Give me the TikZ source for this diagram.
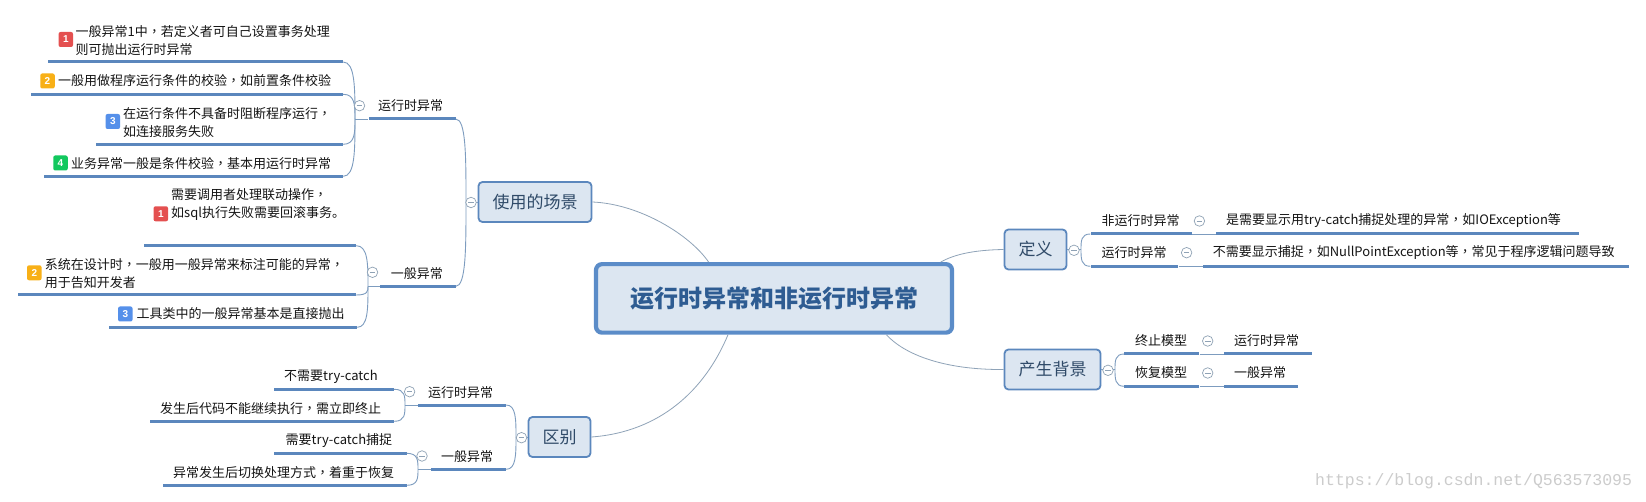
\documentclass[tikz,border=0pt]{standalone}
\usepackage{fontspec}
\setmainfont{Noto Sans CJK SC}
\newfontfamily\tcfont{Noto Sans CJK TC}
\newfontfamily\wmfont{Liberation Mono}
\newfontfamily\digitfont{Liberation Sans}
\usetikzlibrary{calc}
\newcommand{\cm}{{\tcfont ，}}
\definecolor{barblue}{HTML}{5B87BD}
\definecolor{rootblue}{HTML}{5B8CC8}
\definecolor{boxfill}{HTML}{DCE6F1}
\definecolor{boxtext}{HTML}{2F4A68}
\definecolor{roottext}{HTML}{2E5C92}
\definecolor{thinline}{HTML}{7D9CBF}
\definecolor{rootline}{HTML}{8FA3B8}
\definecolor{foldgray}{HTML}{8FA2B5}
\definecolor{bred}{HTML}{E45050}
\definecolor{borange}{HTML}{F8B017}
\definecolor{bblue}{HTML}{5590EA}
\definecolor{bgreen}{HTML}{12C85E}
\tikzset{
  bar/.style={fill=barblue,inner sep=0pt,minimum height=3pt,rectangle},
  lab/.style={inner sep=0pt,font=\fontsize{13}{18}\selectfont,text=black!92,anchor=west,align=left},
  conn/.style={draw=thinline,line width=0.9pt},
  rootconn/.style={draw=rootline,line width=0.8pt},
  subbox/.style={draw=barblue,line width=1.8pt,fill=boxfill,rounded corners=4pt,inner sep=0pt,text=boxtext,font=\fontsize{17}{20}\selectfont},
  rootbox/.style={draw=rootblue,line width=4.2pt,fill=boxfill,rounded corners=6pt,inner sep=0pt,text=roottext,font=\fontsize{24}{28}\selectfont\bfseries},
  fold/.style={circle,draw=foldgray,fill=white,line width=0.7pt,minimum size=10.5pt,inner sep=0pt,
    path picture={\draw[foldgray,line width=0.7pt] ([xshift=-2.8pt]path picture bounding box.center) -- ([xshift=2.8pt]path picture bounding box.center);}},
  badge/.style={rounded corners=2pt,minimum width=14.5pt,minimum height=15pt,inner sep=0pt,text=white,font=\fontsize{10}{10}\digitfont\bfseries},
  wm/.style={inner sep=0pt,anchor=west,text=black!20,font=\fontsize{16.5}{18}\wmfont},
}
% name, x1, x2, bar y, text x, text y, text
\newcommand{\topicnode}[7]{%
  \node[bar,minimum width={(#3)-(#2)}] (#1) at ({((#2)+(#3))/2},#4) {};
  \node[lab] (#1t) at (#5,#6) {#7};
}
% from junction to the end of a child bar; #3 = east or west
\newcommand{\twig}[3]{%
  \draw[conn] (#1) .. controls ($(#1)!0.55!(#1 |- #2.#3)$) and (#1 |- #2.#3) .. (#2.#3);
}
\begin{document}
\begin{tikzpicture}[x=1pt,y=-1pt]
\useasboundingbox[fill=white] (0,0) rectangle (1646,502);

% central topic and main topics
\node[rootbox,minimum width=356pt,minimum height=68.5pt] (root) at (774,298.4) {运行时异常和非运行时异常};
\node[subbox,minimum width=113pt,minimum height=40pt] (scene) at (535,202) {使用的场景};
\node[subbox,minimum width=62pt,minimum height=40pt] (diff) at (559.5,437) {区别};
\node[subbox,minimum width=62pt,minimum height=40pt] (defn) at (1035.5,249.5) {定义};
\node[subbox,minimum width=96pt,minimum height=40pt] (back) at (1052.5,369.5) {产生背景};

% main connectors
\draw[rootconn] (scene.east) .. controls (640,204) and (690,235) .. (root.north -| 708.6,0);
\draw[rootconn] (diff.east) .. controls (660,432) and (705,390) .. (root.south -| 728,0);
\draw[rootconn] (defn.west) .. controls (975,250) and (955,254) .. (root.north -| 940.7,0);
\draw[rootconn] (back.west) .. controls (945,370) and (905,355) .. (root.south -| 886.4,0);

% junctions
\coordinate (jscene) at (466,202);
\coordinate (jrun) at (355,119);
\coordinate (jgen) at (368,286.3);
\coordinate (jdiff) at (516,437);
\coordinate (jdrun) at (405,405);
\coordinate (jdgen) at (418,469.3);
\coordinate (jdefn) at (1081,249.5);
\coordinate (jback) at (1115,369.5);

% left upper branch
\topicnode{run}{368.5}{455.5}{119}{378}{106}{运行时异常}
\topicnode{gen}{380}{455.5}{286.3}{390.7}{273.3}{一般异常}
\topicnode{ra}{48}{343}{62}{75.5}{40.5}{一般异常1中\cm 若定义者可自己设置事务处理\\则可抛出运行时异常}
\topicnode{rb}{31}{343}{94.3}{58}{81}{一般用做程序运行条件的校验\cm 如前置条件校验}
\topicnode{rc}{96}{343}{144.3}{123}{122.7}{在运行条件不具备时阻断程序运行\cm\\如连接服务失败}
\topicnode{rd}{43.5}{343}{176.3}{71}{163.3}{业务异常一般是条件校验\cm 基本用运行时异常}
\topicnode{ga}{143.5}{356}{245.7}{171}{204.5}{需要调用者处理联动操作\cm\\如sql执行失败需要回滚事务。}
\topicnode{gb}{18}{356}{295}{44.7}{273.3}{系统在设计时\cm 一般用一般异常来标注可能的异常\cm\\用于告知开发者}
\topicnode{gc}{108.7}{357}{327.3}{136.4}{314}{工具类中的一般异常基本是直接抛出}

% left lower branch
\topicnode{drun}{418}{506}{405}{428}{392.3}{运行时异常}
\topicnode{dgen}{431}{506}{469.3}{441}{456.7}{一般异常}
\topicnode{da}{273.6}{394}{389.3}{284}{376.7}{不需要try-catch}
\topicnode{db}{149.5}{394}{421.3}{160}{408.7}{发生后代码不能继续执行\cm 需立即终止}
\topicnode{dc}{274.4}{406.5}{453.3}{285.5}{440.7}{需要try-catch捕捉}
\topicnode{dd}{162.5}{406.5}{485.3}{173}{472.3}{异常发生后切换处理方式\cm 着重于恢复}

% right branches
\topicnode{nrun}{1090.6}{1191.6}{234}{1101.4}{221}{非运行时异常}
\topicnode{yrun}{1090.6}{1178.4}{266.3}{1101.4}{252.7}{运行时异常}
\topicnode{nrunx}{1216}{1578.5}{234}{1225.8}{221}{是需要显示用try-catch捕捉处理的异常\cm 如IOException等}
\topicnode{yrunx}{1202.7}{1628.8}{266.3}{1212.6}{252.7}{不需要显示捕捉\cm 如NullPointException等\cm 常见于程序逻辑问题导致}
\topicnode{stop}{1124.4}{1199.4}{354}{1135}{341}{终止模型}
\topicnode{resume}{1124.4}{1199.4}{386.3}{1135}{373}{恢复模型}
\topicnode{stopx}{1224}{1311.5}{354}{1234}{341}{运行时异常}
\topicnode{resumex}{1224}{1298.3}{386.3}{1234}{373}{一般异常}

% stubs
\draw[conn] (scene.west) -- (jscene);
\draw[conn] (jrun) -- (run.west);
\draw[conn] (jgen) -- (gen.west);
\draw[conn] (diff.west) -- (jdiff);
\draw[conn] (jdrun) -- (drun.west);
\draw[conn] (jdgen) -- (dgen.west);
\draw[conn] (defn.east) -- (jdefn);
\draw[conn] (back.east) -- (jback);
\draw[conn] (nrun.east) -- (nrunx.west);
\draw[conn] (yrun.east) -- (yrunx.west);
\draw[conn] (stop.east) -- (stopx.west);
\draw[conn] (resume.east) -- (resumex.west);

% curves
\twig{jscene}{run}{east}
\twig{jscene}{gen}{east}
\twig{jrun}{ra}{east}
\twig{jrun}{rb}{east}
\twig{jrun}{rc}{east}
\twig{jrun}{rd}{east}
\twig{jgen}{ga}{east}
\twig{jgen}{gb}{east}
\twig{jgen}{gc}{east}
\twig{jdiff}{drun}{east}
\twig{jdiff}{dgen}{east}
\twig{jdrun}{da}{east}
\twig{jdrun}{db}{east}
\twig{jdgen}{dc}{east}
\twig{jdgen}{dd}{east}
\twig{jdefn}{nrun}{west}
\twig{jdefn}{yrun}{west}
\twig{jback}{stop}{west}
\twig{jback}{resume}{west}

% fold markers
\node[fold] (f1) at (471,202.5) {};
\node[fold] (f2) at (359.5,105.7) {};
\node[fold] (f3) at (372.5,272.3) {};
\node[fold] (f4) at (521.5,437.7) {};
\node[fold] (f5) at (409.6,391.7) {};
\node[fold] (f6) at (422,456) {};
\node[fold] (f7) at (1074,250.3) {};
\node[fold] (f8) at (1199.4,221) {};
\node[fold] (f9) at (1186.6,252.7) {};
\node[fold] (f10) at (1108,370.3) {};
\node[fold] (f11) at (1207.7,341) {};
\node[fold] (f12) at (1207.7,373) {};

% priority badges
\node[badge,fill=bred] (b1) at (65.8,39.5) {1};
\node[badge,fill=borange] (b2) at (47.5,81) {2};
\node[badge,fill=bblue] (b3) at (112.8,121.5) {3};
\node[badge,fill=bgreen] (b4) at (60.5,163) {4};
\node[badge,fill=bred] (b5) at (160.8,213.8) {1};
\node[badge,fill=borange] (b6) at (34.3,272.8) {2};
\node[badge,fill=bblue] (b7) at (125.3,314) {3};

% watermark
\node[wm] (mark) at (1315,481) {https://blog.csdn.net/Q563573095};
\end{tikzpicture}
\end{document}
